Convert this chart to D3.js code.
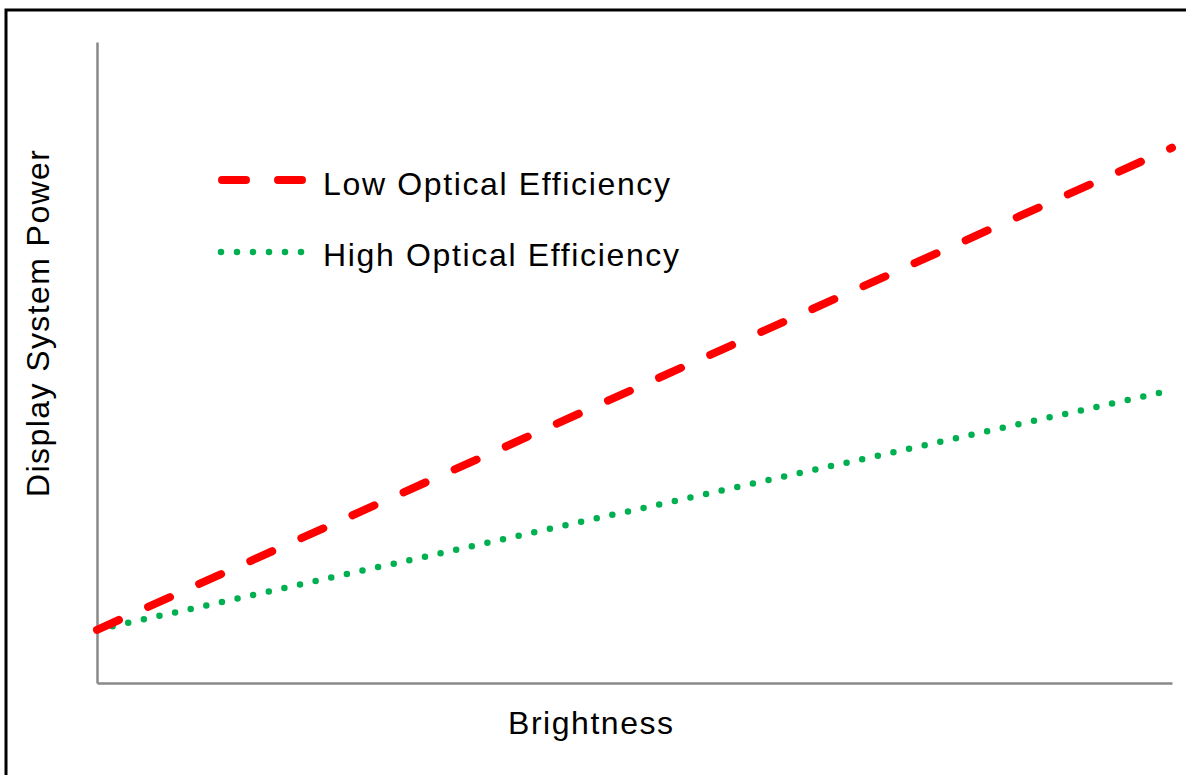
<!DOCTYPE html>
<html>
<head>
<meta charset="utf-8">
<script src="https://cdn.jsdelivr.net/npm/d3@7"></script>
<style>
  html, body { margin: 0; padding: 0; background: #fff; }
  svg { display: block; }
  text { font-family: "Liberation Sans", Arial, sans-serif; fill: #000; }
</style>
</head>
<body>
<svg id="chart" width="1186" height="775"></svg>
<script>
// Data (relative units; the chart has no numeric ticks)
const brightness = [0, 100];
const lowEfficiency = [8.3, 83.5];
const highEfficiency = [8.3, 45.7];
const seriesNames = ["Low Optical Efficiency", "High Optical Efficiency"];
const xTitle = "Brightness";
const yTitle = "Display System Power";

(function () {
const svg = d3.select("#chart");

// outer frame (cropped on right/bottom)
svg.append("rect")
  .attr("x", 6).attr("y", 10)
  .attr("width", 1200).attr("height", 800)
  .attr("fill", "none").attr("stroke", "#000").attr("stroke-width", 3);

const mLeft = 97, mRight = 1172, mTop = 42, mBottom = 683;
const x = d3.scaleLinear().domain([0, 100]).range([mLeft, mRight]);
const y = d3.scaleLinear().domain([0, 100]).range([mBottom, mTop]);

// axes (no ticks)
const axisColor = "#898989";
svg.append("g").attr("transform", `translate(0,${mBottom})`)
  .call(d3.axisBottom(x).tickValues([]).tickSizeOuter(0))
  .call(g => g.select(".domain").attr("stroke", axisColor).attr("stroke-width", 2.5));
svg.append("g").attr("transform", `translate(${mLeft},0)`)
  .call(d3.axisLeft(y).tickValues([]).tickSizeOuter(0))
  .call(g => g.select(".domain").attr("stroke", axisColor).attr("stroke-width", 2.5));

const line = d3.line().x(d => x(d[0])).y(d => y(d[1]));
const lowData = brightness.map((b, i) => [b, lowEfficiency[i]]);
const highData = brightness.map((b, i) => [b, highEfficiency[i]]);

const styles = [
  { color: "#ff0000", width: 8, dash: "24 32" },
  { color: "#00b050", width: 6.5, dash: "0 16" }
];

svg.append("path").datum(highData).attr("d", line)
  .attr("fill", "none").attr("stroke", styles[1].color)
  .attr("stroke-width", styles[1].width).attr("stroke-linecap", "round")
  .attr("stroke-dasharray", styles[1].dash);
svg.append("path").datum(lowData).attr("d", line)
  .attr("fill", "none").attr("stroke", styles[0].color)
  .attr("stroke-width", styles[0].width).attr("stroke-linecap", "round")
  .attr("stroke-dasharray", styles[0].dash);

// legend
const legend = [
  { name: seriesNames[0], ly: 180, ty: 195, x1: 222, x2: 302, tl: 347, st: styles[0] },
  { name: seriesNames[1], ly: 252, ty: 266, x1: 221, x2: 302, tl: 356, st: styles[1] }
];
legend.forEach(l => {
  svg.append("line")
    .attr("x1", l.x1).attr("x2", l.x2).attr("y1", l.ly).attr("y2", l.ly)
    .attr("stroke", l.st.color).attr("stroke-width", l.st.width)
    .attr("stroke-linecap", "round").attr("stroke-dasharray", l.st.dash);
  svg.append("text").attr("x", 323).attr("y", l.ty)
    .attr("font-size", 32)
    .attr("textLength", l.tl).attr("lengthAdjust", "spacing")
    .text(l.name);
});

// axis titles
svg.append("text")
  .attr("x", 508).attr("y", 734)
  .attr("font-size", 32)
  .attr("textLength", 165).attr("lengthAdjust", "spacing")
  .text(xTitle);

svg.append("text")
  .attr("transform", "translate(49,497) rotate(-90)")
  .attr("font-size", 32)
  .attr("textLength", 347).attr("lengthAdjust", "spacing")
  .text(yTitle);
})();
</script>
</body>
</html>
